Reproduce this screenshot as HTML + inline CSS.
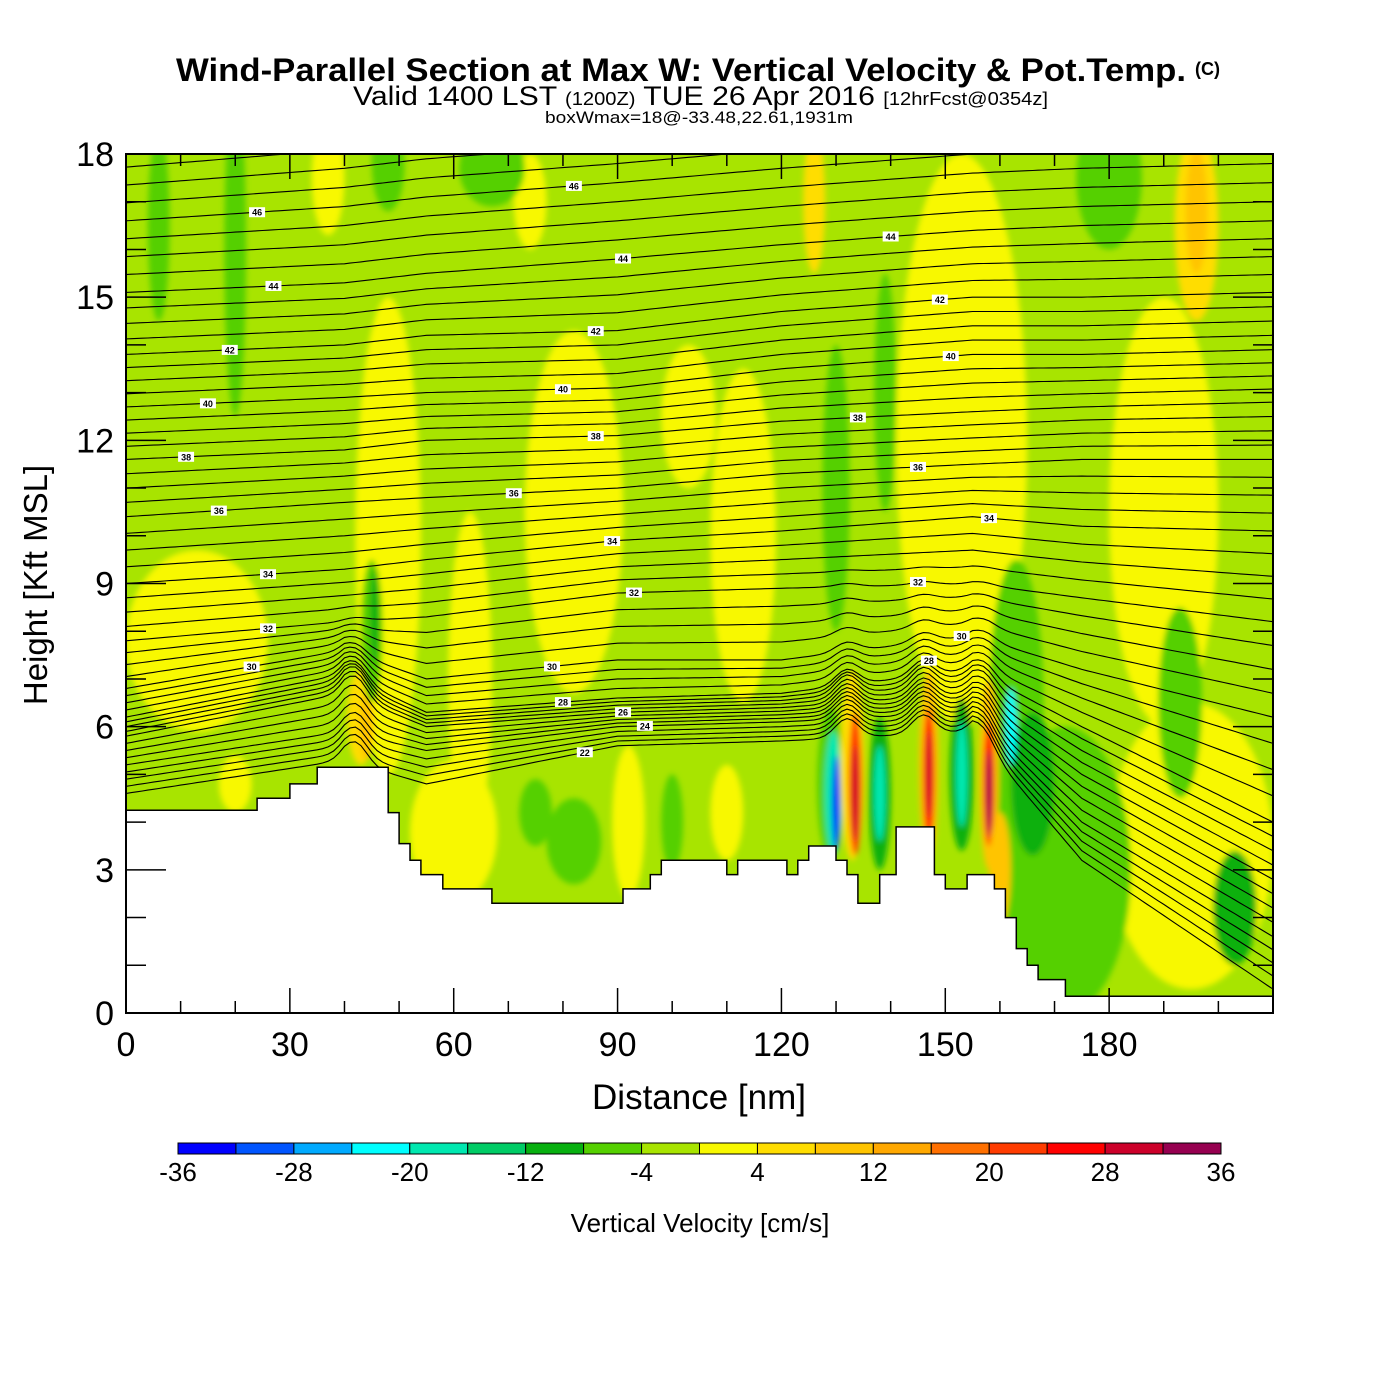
<!DOCTYPE html>
<html><head><meta charset="utf-8">
<style>
html,body{margin:0;padding:0;background:#fff;}
svg{display:block;font-family:"Liberation Sans",sans-serif;}
</style></head>
<body>
<svg id="chart" width="1400" height="1400" viewBox="0 0 1400 1400" xmlns="http://www.w3.org/2000/svg">
<defs>
<clipPath id="plotclip"><rect x="126" y="154" width="1147" height="859"/></clipPath>
<filter id="soft" x="-20%" y="-20%" width="140%" height="140%"><feGaussianBlur stdDeviation="3"/></filter>
</defs>
<g>
<text x="176" y="81" font-size="32" font-weight="bold" textLength="1010" lengthAdjust="spacingAndGlyphs">Wind-Parallel Section at Max W: Vertical Velocity &amp; Pot.Temp.</text>
<text x="1195" y="75" font-size="18" font-weight="bold">(C)</text>
<text x="353" y="105" font-size="27" textLength="695" lengthAdjust="spacingAndGlyphs">Valid 1400 LST <tspan font-size="18">(1200Z)</tspan> TUE 26 Apr 2016 <tspan font-size="18">[12hrFcst@0354z]</tspan></text>
<text x="545" y="123" font-size="17" textLength="308" lengthAdjust="spacingAndGlyphs">boxWmax=18@-33.48,22.61,1931m</text>
</g>
<g id="plot" clip-path="url(#plotclip)">
<rect x="126" y="154" width="1147" height="859" fill="#a8e400"/>
<g id="blobs" filter="url(#soft)"></g>
<g id="contours"></g>
<g id="terrain"></g>
<g id="clabels"></g>
</g>
<rect x="126" y="154" width="1147" height="859" fill="none" stroke="#000" stroke-width="2"/>
<g id="axes"></g>
<g id="colorbar"></g>
<text x="699" y="1109" text-anchor="middle" font-size="35">Distance [nm]</text>
<text x="47" y="585" text-anchor="middle" font-size="33" transform="rotate(-90 47 585)">Height [Kft MSL]</text>
<text x="700" y="1232" text-anchor="middle" font-size="26">Vertical Velocity [cm/s]</text>
</svg>
<script>
const NS="http://www.w3.org/2000/svg";
// ---- data ----
const xTicks=[0,30,60,90,120,150,180];
const yTicks=[0,3,6,9,12,15,18];
const cbLabels=[-36,-28,-20,-12,-4,4,12,20,28,36];
const cbColors=["#0000ff","#0055ff","#00aaff","#00ffff","#00e8b0","#00cc66","#08b010","#55d000","#a8e400","#f8f800","#ffdd00","#ffc400","#ffa800","#ff7000","#ff3c00","#ff0000","#cc002a","#960050"];
// terrain: distance breakpoints (nm) and heights (kft)
const terrainX=[0,24,24,30,30,35,35,48,48,50,50,52,52,54,54,58,58,67,67,91,91,96,96,98,98,110,110,112,112,121,121,123,123,125,125,130,130,132,132,134,134,138,138,141,141,148,148,150,150,154,154,159,159,161,161,163,163,165,165,167,167,172,172,210];
const terrainH=[4.25,4.25,4.5,4.5,4.8,4.8,5.15,5.15,4.2,4.2,3.55,3.55,3.2,3.2,2.9,2.9,2.6,2.6,2.3,2.3,2.6,2.6,2.9,2.9,3.2,3.2,2.9,2.9,3.2,3.2,2.9,2.9,3.2,3.2,3.5,3.5,3.2,3.2,2.9,2.9,2.3,2.3,2.9,2.9,3.9,3.9,2.9,2.9,2.6,2.6,2.9,2.9,2.6,2.6,2.0,2.0,1.35,1.35,1.0,1.0,0.7,0.7,0.35,0.35];
// potential temperature profiles (kft) at stations
const thetaLevels=[22,24,26,28,30,32,34,36,38,40,42,44,46];
const stations=[0,40,55,90,120,155,175,210];
const prof0=[4.6,5.2,5.8,6.2,6.8,7.8,9.0,10.4,11.6,12.7,13.8,15.1,16.6];
const prof40=[5.3,5.9,6.7,7.1,7.6,8.2,9.3,10.7,11.8,12.9,14.0,15.3,16.9];
const prof55=[4.8,5.5,6.0,6.3,7.0,8.3,9.5,10.8,12.0,13.0,14.2,15.5,17.1];
const prof90=[5.6,6.0,6.3,6.6,7.4,8.8,9.9,11.0,12.1,13.1,14.3,15.8,17.4];
const prof120=[5.7,6.1,6.4,6.7,7.4,8.9,10.1,11.3,12.4,13.5,14.7,16.1,17.7];
const prof155=[5.9,6.3,6.7,7.2,7.9,9.0,10.4,11.5,12.6,13.8,15.0,16.4,18.0];
const prof175=[3.2,4.0,5.0,6.0,7.2,8.7,10.2,11.6,12.7,13.8,15.0,16.5,18.1];
const prof210=[0.5,1.6,2.8,4.0,6.2,8.2,10.1,11.6,12.8,13.9,15.1,16.6,18.2];
const waveX=[42,132,146,157];
const waveAmp=[0.45,0.4,0.4,0.35];
// contour label positions: level, distance
const labelLevel=[22,24,26,28,30,32,34,36,38,40,42,44,46,30,32,34,36,38,40,42,44,46,28,30,32,34,36,38,40,42,44];
const labelDist=[84,95,91,80,78,93,89,71,86,80,86,91,82,23,26,26,17,11,15,19,27,24,147,153,145,158,145,134,151,149,140];
// vertical velocity blobs: [distance, height, rx(nm), ry(kft), w-value cm/s]
const blobs=[
[13,7.8,13,1.9,2],[48,10,6,5,2],[63,7,4,3.5,2],[82,10.5,9,3.8,2],[92,4,3,1.6,2],[113,10,6,3.5,2],[103,12.5,5,1.5,2],
[153,12,12,6,2],[190,10.5,10,4.5,2],[196,16.5,4,2,6],[195,3.5,15,3,2],[37,17.5,3,1.2,2],[60,3.8,8,1.5,2],[74,17,3,1,2],
[126,17,2,1.5,6],[196,16.8,2,1.3,10],[43,6.2,2.5,1,6],[44,6.0,1.2,0.7,10],[110,4.2,3,1,2],[20,4.8,3,0.6,2],
[6,16.5,2,2,-6],[20,16,2,3.5,-6],[48,17.8,3,1,-6],[67,17.7,6,0.8,-6],[180,17.5,6,1.5,-6],[139,13,2,2.5,-6],[130,11,2.5,3,-6],
[45,8,2,1.5,-6],[45.5,8.3,0.8,1,-10],[82,3.6,5,0.9,-6],[75,4.2,3,0.7,-6],[100,4.0,2,1,-6],[193,6.5,4,2,-6],[172,3,12,3,-6],[203,2.2,4,1.2,-10],[163,6.5,5,3,-6],
[129,4.8,2.5,1.6,-6],[129.5,4.6,1.6,1.3,-18],[130,4.4,0.7,1,-34],
[133,5.2,2.2,2,6],[133.5,4.8,1.2,1.5,22],[133.5,4.6,0.6,1,30],
[138,4.6,2,1.6,-10],[138,4.6,1,1,-18],
[147,5.2,1.8,2,10],[147,5,1,1.4,26],[147,5,0.5,0.9,30],
[153,5,2.2,1.6,-10],[153,5,1,1.1,-18],
[158,5,1.8,2,10],[158,4.8,1,1.3,26],[158,4.6,0.5,0.9,34],
[166,4.8,4,1.5,-10],[162,6,1,0.8,-22],[160,3,2,1.2,10]
];
// ---- scales ----
const X0=126,X1=1273,Y0=1013,Y1=154;
function xs(d){return X0+d*(X1-X0)/210;}
function ys(h){return Y0-h*(Y0-Y1)/18;}
function colorFor(w){let i=Math.floor((w+36)/4);return cbColors[Math.max(0,Math.min(17,i))];}
function mk(tag,attrs,parent){const e=document.createElementNS(NS,tag);for(const k in attrs)e.setAttribute(k,attrs[k]);parent.appendChild(e);return e;}
const profs=[prof0,prof40,prof55,prof90,prof120,prof155,prof175,prof210];
function levelAt(prof,th){for(let i=0;i<thetaLevels.length-1;i++){if(th<=thetaLevels[i+1]){const t=(th-thetaLevels[i])/(thetaLevels[i+1]-thetaLevels[i]);return prof[i]+t*(prof[i+1]-prof[i]);}}const n=thetaLevels.length;return prof[n-1]+(th-thetaLevels[n-1])*(prof[n-1]-prof[n-2])/2;}
function heightAt(th,d){let h;for(let i=0;i<stations.length-1;i++){if(d<=stations[i+1]){const t=(d-stations[i])/(stations[i+1]-stations[i]);h=levelAt(profs[i],th)*(1-t)+levelAt(profs[i+1],th)*t;break;}}
 const f=Math.max(0,Math.min(1,(33-th)/6));
 for(let j=0;j<waveX.length;j++){h+=f*waveAmp[j]*Math.exp(-Math.pow((d-waveX[j])/3,2));}return h;}
// ---- blobs ----
const gb=document.getElementById('blobs');
blobs.forEach((b,i)=>{
 const e=mk('ellipse',{cx:xs(b[0]),cy:ys(b[1]),rx:b[2]*(X1-X0)/210,ry:b[3]*(Y0-Y1)/18,fill:colorFor(b[4])},gb);
 
 
});
// ---- contours ----
const gc=document.getElementById('contours');
for(let th=22;th<=47.6;th+=0.5){
 let pts=[];for(let d=0;d<=210;d+=1){pts.push(xs(d).toFixed(1)+','+ys(heightAt(th,d)).toFixed(1));}
 const p=mk('polyline',{points:pts.join(' '),fill:'none',stroke:'#000','stroke-width':1.1},gc);
 
 
}
// ---- terrain ----
const gt=document.getElementById('terrain');
let tp=[];for(let i=0;i<terrainX.length;i++)tp.push(xs(terrainX[i]).toFixed(1)+','+ys(terrainH[i]).toFixed(1));
const tpoly=mk('polygon',{points:tp.join(' ')+' '+xs(210)+','+(Y0+5)+' '+xs(0)+','+(Y0+5),fill:'#fff',stroke:'#000','stroke-width':1.5},gt);


// ---- contour labels ----
const gl=document.getElementById('clabels');
labelLevel.forEach((lv,i)=>{
 const d=labelDist[i];const x=xs(d),y=ys(heightAt(lv,d));
 const g=mk('g',{},gl);
 
 
 mk('rect',{x:x-8,y:y-5,width:16,height:10,fill:'#fff'},g);
 const t=mk('text',{x:x,y:y+3.5,'text-anchor':'middle','font-size':9,'font-weight':'bold'},g);t.textContent=lv;
});
// ---- axes ----
const ga=document.getElementById('axes');
for(let d=0;d<=210;d+=10){const maj=d%30===0;const L=maj?25:12;
 const a=mk('line',{x1:xs(d),x2:xs(d),y1:Y0,y2:Y0-L,stroke:'#000','stroke-width':1.5},ga);
 const b=mk('line',{x1:xs(d),x2:xs(d),y1:Y1,y2:Y1+L,stroke:'#000','stroke-width':1.5},ga);}
for(let h=0;h<=18;h+=1){const maj=h%3===0;const L=maj?40:20;
 const a=mk('line',{x1:X0,x2:X0+L,y1:ys(h),y2:ys(h),stroke:'#000','stroke-width':1.5},ga);
 const b=mk('line',{x1:X1,x2:X1-L,y1:ys(h),y2:ys(h),stroke:'#000','stroke-width':1.5},ga);}
xTicks.forEach(v=>{const t=mk('text',{x:xs(v),y:1056,'text-anchor':'middle','font-size':34},ga);t.textContent=v;
 });
yTicks.forEach(v=>{const t=mk('text',{x:114,y:ys(v)+12,'text-anchor':'end','font-size':34},ga);t.textContent=v;
 });
// ---- colorbar ----
const gcb=document.getElementById('colorbar');
const cbx0=178,cbw=(1221-178)/18;
cbColors.forEach((c,i)=>{const r=mk('rect',{x:cbx0+i*cbw,y:1143,width:cbw,height:11,fill:c,stroke:'#000','stroke-width':1},gcb);
 });
cbLabels.forEach((v,i)=>{const t=mk('text',{x:cbx0+i*2*cbw,y:1181,'text-anchor':'middle','font-size':26},gcb);t.textContent=v;
 });
</script>
</body></html>
